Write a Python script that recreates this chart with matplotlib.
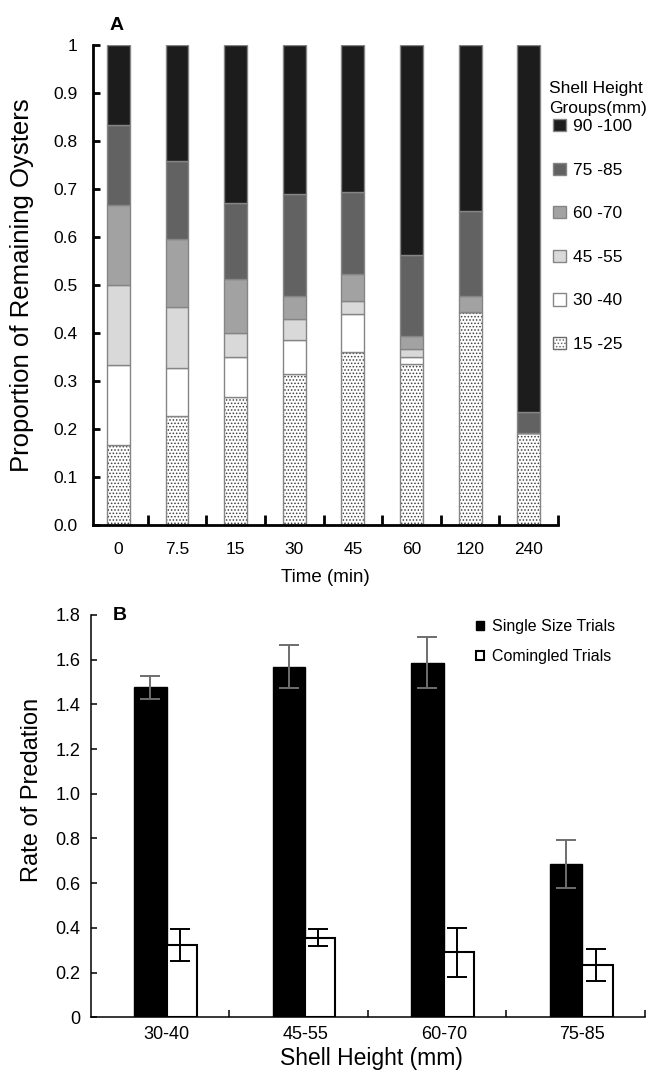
import matplotlib
matplotlib.use("Agg")
import matplotlib.pyplot as plt
import numpy as np
from matplotlib.patches import Patch

# ---------------- data ----------------
times = ['0', '7.5', '15', '30', '45', '60', '120', '240']
group_labels = ['15 -25', '30 -40', '45 -55', '60 -70', '75 -85', '90 -100']
g15_25 = [0.166, 0.227, 0.266, 0.314, 0.360, 0.335, 0.443, 0.192]
g30_40 = [0.167, 0.099, 0.084, 0.071, 0.079, 0.015, 0.0, 0.0]
g45_55 = [0.167, 0.127, 0.049, 0.044, 0.028, 0.016, 0.0, 0.0]
g60_70 = [0.167, 0.142, 0.113, 0.048, 0.056, 0.027, 0.034, 0.0]
g75_85 = [0.166, 0.163, 0.158, 0.212, 0.171, 0.169, 0.177, 0.044]
g90_100 = [0.167, 0.242, 0.330, 0.311, 0.306, 0.438, 0.346, 0.764]

sizes = ['30-40', '45-55', '60-70', '75-85']
single = [1.476, 1.569, 1.587, 0.686]
single_err = [0.053, 0.095, 0.113, 0.106]
comingled = [0.323, 0.356, 0.291, 0.235]
comingled_err = [0.072, 0.038, 0.109, 0.072]

# ---------------- style ----------------
NARROW = ['Liberation Sans Narrow', 'Liberation Sans', 'DejaVu Sans']
REG = ['Liberation Sans', 'DejaVu Sans']
plt.rcParams['font.family'] = REG
plt.rcParams['hatch.linewidth'] = 0.7

W, H = 647, 1071
fig = plt.figure(figsize=(W / 100, H / 100), dpi=100)

# ---------------- Panel A ----------------
axA = fig.add_axes([93 / W, 1 - 525 / H, 465 / W, 480.3 / H])
x = np.arange(len(times))
series = [g15_25, g30_40, g45_55, g60_70, g75_85, g90_100]
faces = ['white', 'white', '#d9d9d9', '#a2a2a2', '#626262', '#1c1c1c']
hatches = ['.....', None, None, None, None, None]
edge = '#858585'
bottom = np.zeros(len(times))
for vals, fc, ht in zip(series, faces, hatches):
    vals = np.array(vals)
    if ht:
        axA.bar(x, vals, width=0.39, bottom=bottom, color=fc, edgecolor='#404040',
                linewidth=0, hatch=ht)
        axA.bar(x, vals, width=0.39, bottom=bottom, color='none', edgecolor=edge,
                linewidth=1.0)
    else:
        axA.bar(x, vals, width=0.39, bottom=bottom, color=fc, edgecolor=edge,
                linewidth=1.0)
    bottom += vals

axA.set_xlim(-0.434, 7.486)
axA.set_ylim(0, 1)
for s in ['top', 'right']:
    axA.spines[s].set_visible(False)
for s in ['left', 'bottom']:
    axA.spines[s].set_linewidth(2.0)
axA.set_yticks(np.arange(0, 1.01, 0.1))
axA.set_yticklabels(['0.0'] + ['%.1f' % v for v in np.arange(0.1, 0.95, 0.1)] + ['1'],
                    family=NARROW, fontsize=12.5)
axA.tick_params(axis='y', direction='in', length=5, width=2, pad=11)
axA.set_xticks(x)
axA.set_xticklabels(times, family=NARROW, fontsize=12.5)
axA.tick_params(axis='x', which='major', length=0, pad=12)
axA.set_xticks(x + 0.5, minor=True)
axA.tick_params(axis='x', which='minor', direction='in', length=7, width=2)

fig.text(325 / W, 1 - 578 / H, 'Time (min)', family=NARROW, fontsize=13.5,
         ha='center', va='center')
fig.text(22 / W, 1 - 285 / H, 'Proportion of Remaining Oysters', fontsize=18.5,
         rotation=90, ha='center', va='center')
fig.text(117 / W, 1 - 25 / H, 'A', fontsize=14, fontweight='bold', ha='center', va='center')

# legend title drawn as text, entries as a legend
fig.text(549 / W, 1 - 88 / H, 'Shell Height', fontsize=12.5, ha='left', va='center')
fig.text(549 / W, 1 - 109 / H, 'Groups(mm)', fontsize=12.5, ha='left', va='center')
handlesA = []
for fc, ht in zip(faces[::-1], hatches[::-1]):
    handlesA.append(Patch(facecolor=fc, edgecolor=edge if not ht else '#6a6a6a',
                          hatch=ht, linewidth=1.0))
axA.legend(handlesA, group_labels[::-1],
           loc='upper left', bbox_to_anchor=(553 / W, 1 - 119 / H),
           bbox_transform=fig.transFigure, frameon=False, fontsize=12.5,
           handlelength=0.72, handleheight=0.72, handletextpad=0.45, labelspacing=1.63,
           borderpad=0, borderaxespad=0)

# ---------------- Panel B ----------------
axB = fig.add_axes([90.7 / W, 1 - 1017.3 / H, 554.3 / W, 402.3 / H])
xb = np.arange(len(sizes))
axB.bar(xb, single, width=-0.235, align='edge', color='black', edgecolor='black',
        linewidth=1.0, label='Single Size Trials')
axB.bar(xb, comingled, width=0.217, align='edge', color='white', edgecolor='black',
        linewidth=1.5, label='Comingled Trials')
axB.errorbar(xb - 0.12, single, yerr=single_err, fmt='none', ecolor='#6e6e6e',
             elinewidth=1.4, capsize=7.5, capthick=1.4)
axB.errorbar(xb + 0.095, comingled, yerr=comingled_err, fmt='none', ecolor='black',
             elinewidth=1.4, capsize=7.5, capthick=1.4)
axB.set_xlim(-0.548, 3.451)
axB.set_ylim(0, 1.8)
for s in ['top', 'right']:
    axB.spines[s].set_visible(False)
for s in ['left', 'bottom']:
    axB.spines[s].set_linewidth(1.1)
yt = np.arange(0, 1.81, 0.2)
axB.set_yticks(yt)
axB.set_yticklabels(['0'] + ['%.1f' % v for v in yt[1:]], fontsize=13)
axB.tick_params(axis='y', direction='in', length=4, width=1.1, pad=7.5)
axB.set_xticks(xb)
axB.set_xticklabels(sizes, fontsize=13)
axB.tick_params(axis='x', which='major', length=0, pad=6.5)
axB.set_xticks(xb + 0.45, minor=True)
axB.tick_params(axis='x', which='minor', direction='in', length=5, width=1.1)

fig.text(371 / W, 1 - 1058 / H, 'Shell Height (mm)', fontsize=16.5, ha='center', va='center')
fig.text(32 / W, 1 - 790 / H, 'Rate of Predation', fontsize=17, rotation=90,
         ha='center', va='center')
fig.text(119.5 / W, 1 - 615 / H, 'B', fontsize=14, fontweight='bold', ha='center', va='center')

hB = [Patch(facecolor='black', edgecolor='black', linewidth=1.0),
      Patch(facecolor='white', edgecolor='black', linewidth=1.5)]
axB.legend(hB, ['Single Size Trials', 'Comingled Trials'], loc='upper left',
           bbox_to_anchor=(475.5 / W, 1 - 619 / H), bbox_transform=fig.transFigure,
           frameon=False, fontsize=11.5, handlelength=0.55, handleheight=0.55,
           handletextpad=0.5, labelspacing=0.95, borderpad=0, borderaxespad=0)

fig.savefig('out.png', dpi=100)
